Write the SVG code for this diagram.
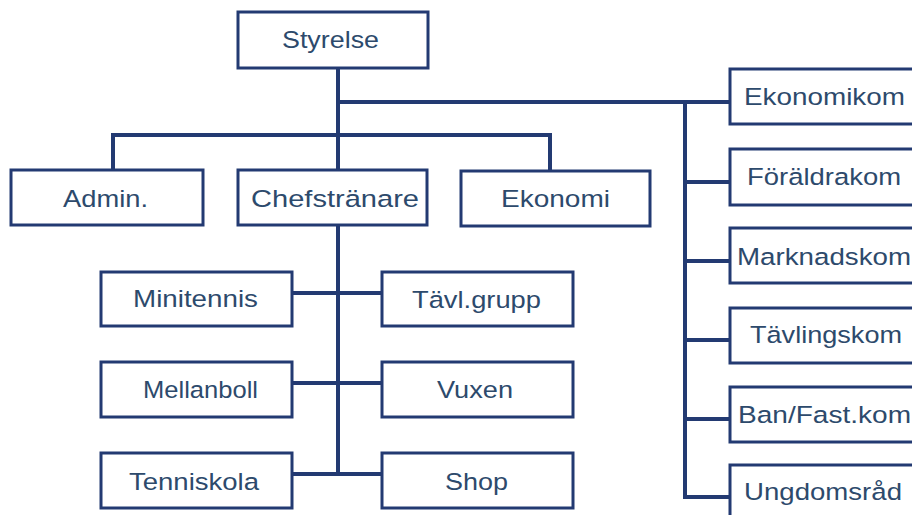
<svg xmlns="http://www.w3.org/2000/svg" width="912" height="515" viewBox="0 0 912 515">
<style>
.box{fill:#ffffff;stroke:#233a72;stroke-width:3}
.lbl{font-family:"Liberation Sans",Arial,sans-serif;font-size:24.5px;fill:#2d4a6c}
.con{fill:none;stroke:#233a72;stroke-width:4;stroke-linejoin:miter;stroke-linecap:square}
</style>
<rect width="912" height="515" fill="#ffffff"/>
<g id="connectors">
<path class="con" d="M338 68 V168"/>
<path class="con" d="M338 102 H729"/>
<path class="con" d="M113 169 V135 H550 V170"/>
<path class="con" d="M685 102 V497 H729"/>
<path class="con" d="M685 182 H729"/>
<path class="con" d="M685 261 H729"/>
<path class="con" d="M685 340 H729"/>
<path class="con" d="M685 419 H729"/>
<path class="con" d="M338 225 V474"/>
<path class="con" d="M292 293 H381"/>
<path class="con" d="M292 383 H381"/>
<path class="con" d="M292 474 H381"/>
</g>
<g id="styrelse"><rect class="box" x="238" y="12" width="190" height="56"/><text class="lbl" x="282" y="48" textLength="97" lengthAdjust="spacingAndGlyphs">Styrelse</text></g>
<g id="admin"><rect class="box" x="11" y="170" width="192" height="55"/><text class="lbl" x="63" y="207" textLength="85" lengthAdjust="spacingAndGlyphs">Admin.</text></g>
<g id="chefstranare"><rect class="box" x="238" y="170" width="189" height="55"/><text class="lbl" x="251" y="207" textLength="168" lengthAdjust="spacingAndGlyphs">Chefstränare</text></g>
<g id="ekonomi"><rect class="box" x="461" y="171" width="189" height="55"/><text class="lbl" x="501" y="207" textLength="109" lengthAdjust="spacingAndGlyphs">Ekonomi</text></g>
<g id="minitennis"><rect class="box" x="101" y="272" width="191" height="54"/><text class="lbl" x="133" y="307" textLength="125" lengthAdjust="spacingAndGlyphs">Minitennis</text></g>
<g id="tavlgrupp"><rect class="box" x="382" y="272" width="191" height="54"/><text class="lbl" x="412" y="308" textLength="129" lengthAdjust="spacingAndGlyphs">Tävl.grupp</text></g>
<g id="mellanboll"><rect class="box" x="101" y="362" width="191" height="55"/><text class="lbl" x="143" y="398" textLength="115" lengthAdjust="spacingAndGlyphs">Mellanboll</text></g>
<g id="vuxen"><rect class="box" x="382" y="362" width="191" height="55"/><text class="lbl" x="437" y="398" textLength="76" lengthAdjust="spacingAndGlyphs">Vuxen</text></g>
<g id="tenniskola"><rect class="box" x="101" y="453" width="191" height="55"/><text class="lbl" x="129" y="490" textLength="130" lengthAdjust="spacingAndGlyphs">Tenniskola</text></g>
<g id="shop"><rect class="box" x="382" y="453" width="191" height="55"/><text class="lbl" x="445" y="490" textLength="63" lengthAdjust="spacingAndGlyphs">Shop</text></g>
<g id="ekonomikom"><rect class="box" x="730" y="69" width="200" height="55"/><text class="lbl" x="744" y="105" textLength="161" lengthAdjust="spacingAndGlyphs">Ekonomikom</text></g>
<g id="foraldrakom"><rect class="box" x="730" y="149" width="200" height="56"/><text class="lbl" x="747" y="185" textLength="154" lengthAdjust="spacingAndGlyphs">Föräldrakom</text></g>
<g id="marknadskom"><rect class="box" x="730" y="228" width="200" height="55"/><text class="lbl" x="737" y="265" textLength="174" lengthAdjust="spacingAndGlyphs">Marknadskom</text></g>
<g id="tavlingskom"><rect class="box" x="730" y="308" width="200" height="55"/><text class="lbl" x="750" y="343" textLength="152" lengthAdjust="spacingAndGlyphs">Tävlingskom</text></g>
<g id="banfastkom"><rect class="box" x="730" y="387" width="200" height="55"/><text class="lbl" x="738" y="423" textLength="173" lengthAdjust="spacingAndGlyphs">Ban/Fast.kom</text></g>
<g id="ungdomsrad"><rect class="box" x="730" y="465" width="200" height="60"/><text class="lbl" x="744" y="500" textLength="158" lengthAdjust="spacingAndGlyphs">Ungdomsråd</text></g>
</svg>
